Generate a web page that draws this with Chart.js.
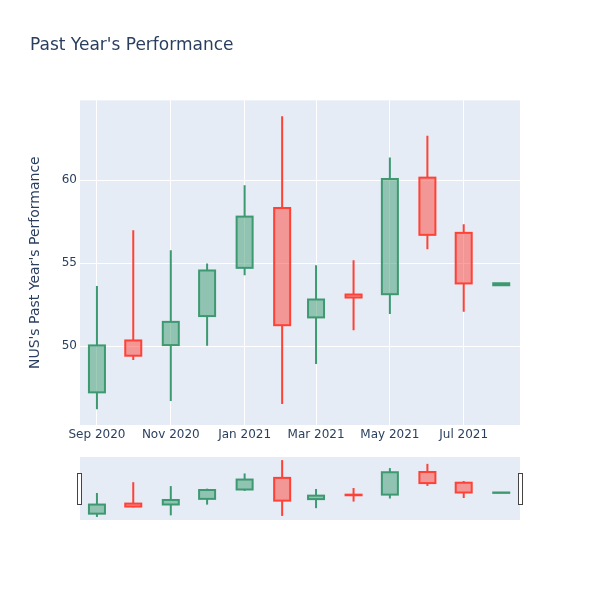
<!DOCTYPE html>
<html>
<head>
<meta charset="utf-8">
<script src="https://cdn.jsdelivr.net/npm/chart.js@4.4.0/dist/chart.umd.min.js"></script>
<style>
  body { margin: 0; background: #fff; }
  #wrap { position: relative; width: 600px; height: 600px; }
  #main { position: absolute; left: 0; top: 0; }
  #slider { position: absolute; left: 70px; top: 450px; }
</style>
</head>
<body>
<div id="wrap">
  <canvas id="main" width="600" height="600"></canvas>
  <canvas id="slider" width="460" height="80"></canvas>
</div>
<script>
// datos (velas mensuales)
const fechas = ['2020-09-01', '2020-10-01', '2020-11-01', '2020-12-01', '2021-01-01', '2021-02-01',
                '2021-03-01', '2021-04-01', '2021-05-01', '2021-06-01', '2021-07-01', '2021-08-01'];
const apertura = [47.21, 50.34, 50.06, 51.81, 54.72, 58.33, 51.73, 53.11, 53.13, 60.16, 56.83, 53.67];
const maximo   = [53.63, 56.99, 55.78, 54.98, 59.70, 63.86, 54.88, 55.18, 61.37, 62.69, 57.35, 53.79];
const minimo   = [46.19, 49.16, 46.69, 50.02, 54.28, 46.51, 48.92, 50.96, 51.93, 55.84, 52.07, 53.67];
const cierre   = [50.04, 49.42, 51.46, 54.56, 57.81, 51.26, 52.81, 52.93, 60.08, 56.71, 53.78, 53.79];

const ticksX = ['2020-09-01', '2020-11-01', '2021-01-01', '2021-03-01', '2021-05-01', '2021-07-01'];
const etiquetasX = ['Sep 2020', 'Nov 2020', 'Jan 2021', 'Mar 2021', 'May 2021', 'Jul 2021'];
const ticksY = [50, 55, 60];
const rangoX = ['2020-08-18T00:00:00Z', '2021-08-16T12:00:00Z'];
const rangoY = [45.24, 64.82];

const VERDE = '#3D9970', ROJO = '#FF4136';
const VERDE_F = 'rgba(61,153,112,0.5)', ROJO_F = 'rgba(255,65,54,0.5)';

const dia = s => Date.parse(s.length > 10 ? s : s + 'T00:00:00Z') / 86400000;
const xs = fechas.map(dia);
const sube = cierre.map((c, i) => c >= apertura[i]);
const colorBorde = sube.map(s => s ? VERDE : ROJO);
const colorRelleno = sube.map(s => s ? VERDE_F : ROJO_F);

function crearDatasets() {
    return [
        {
            // cuerpo de la vela (el borde lo pinta el plugin, centrado como en plotly)
            data: xs.map((x, i) => ({ x: x, y: [apertura[i], cierre[i]] })),
            backgroundColor: colorRelleno,
            borderWidth: 0,
            inflateAmount: 0,
            barThickness: 16,
            grouped: false
        },
        {
            // mecha superior
            data: xs.map((x, i) => ({ x: x, y: [Math.max(apertura[i], cierre[i]), maximo[i]] })),
            backgroundColor: colorBorde,
            borderWidth: 0,
            inflateAmount: 0,
            barThickness: 2,
            grouped: false
        },
        {
            // mecha inferior
            data: xs.map((x, i) => ({ x: x, y: [minimo[i], Math.min(apertura[i], cierre[i])] })),
            backgroundColor: colorBorde,
            borderWidth: 0,
            inflateAmount: 0,
            barThickness: 2,
            grouped: false
        }
    ];
}

const fondoPlot = {
    id: 'fondoPlot',
    beforeDraw(chart) {
        const { ctx, chartArea: a } = chart;
        ctx.save();
        ctx.fillStyle = '#E5ECF6';
        ctx.fillRect(a.left, a.top, a.right - a.left, a.bottom - a.top);
        ctx.restore();
    }
};

// contorno de los cuerpos, trazo de 2px centrado en el borde
const contorno = {
    id: 'contorno',
    afterDatasetsDraw(chart) {
        const ctx = chart.ctx;
        const meta = chart.getDatasetMeta(0);
        ctx.save();
        ctx.lineWidth = 2;
        meta.data.forEach((bar, i) => {
            const p = bar.getProps(['x', 'y', 'base', 'width'], true);
            const top = Math.min(p.y, p.base);
            const h = Math.abs(p.y - p.base);
            ctx.strokeStyle = colorBorde[i];
            ctx.strokeRect(p.x - p.width / 2, top, p.width, h);
        });
        ctx.restore();
    }
};

Chart.defaults.font.family = "'DejaVu Sans', Verdana, sans-serif";
Chart.defaults.font.size = 12;
Chart.defaults.color = '#2a3f5f';

new Chart(document.getElementById('main'), {
    type: 'bar',
    data: { datasets: crearDatasets() },
    options: {
        responsive: false,
        animation: false,
        layout: { padding: { left: 30, right: 80, top: 0, bottom: 0 } },
        plugins: {
            legend: { display: false },
            tooltip: { enabled: false },
            title: {
                display: true,
                text: "Past Year's Performance",
                align: 'start',
                color: '#2a3f5f',
                font: { size: 17, weight: 'normal' },
                padding: { top: 35, bottom: 45 }
            }
        },
        scales: {
            x: {
                type: 'linear',
                min: dia(rangoX[0]),
                max: dia(rangoX[1]),
                offset: false,
                grid: { color: '#ffffff', lineWidth: 1, drawTicks: false, offset: false },
                border: { display: false },
                afterBuildTicks: axis => { axis.ticks = ticksX.map(t => ({ value: dia(t) })); },
                afterFit: axis => { axis.height = 175; },
                ticks: {
                    autoSkip: false,
                    maxRotation: 0,
                    padding: 3,
                    callback: v => etiquetasX[ticksX.map(dia).indexOf(v)]
                }
            },
            y: {
                min: rangoY[0],
                max: rangoY[1],
                grid: { color: '#ffffff', lineWidth: 1, drawTicks: false },
                border: { display: false },
                afterBuildTicks: axis => { axis.ticks = ticksY.map(v => ({ value: v })); },
                afterFit: axis => { axis.width = 50; },
                ticks: { padding: 3 },
                title: {
                    display: true,
                    text: "NUS's Past Year's Performance",
                    font: { size: 14 },
                    padding: { top: -3, bottom: 0 }
                }
            }
        }
    },
    plugins: [fondoPlot, contorno]
});

// mini grafico del selector de rango
const asas = {
    id: 'asas',
    afterDraw(chart) {
        const { ctx, chartArea: a } = chart;
        const h = 32, y0 = a.top + 16;
        ctx.save();
        ctx.fillStyle = '#ffffff';
        ctx.strokeStyle = '#444444';
        ctx.lineWidth = 1;
        [a.left - 3, a.right - 2].forEach(x => {
            ctx.fillRect(x, y0, 5, h);
            ctx.strokeRect(x + 0.5, y0 + 0.5, 4, h - 1);
        });
        ctx.restore();
    }
};

new Chart(document.getElementById('slider'), {
    type: 'bar',
    data: { datasets: crearDatasets() },
    options: {
        responsive: false,
        animation: false,
        layout: { padding: { left: 10, right: 10, top: 7, bottom: 10 } },
        plugins: { legend: { display: false }, tooltip: { enabled: false } },
        scales: {
            x: { type: 'linear', display: false, offset: false, min: dia(rangoX[0]), max: dia(rangoX[1]) },
            y: { display: false, min: rangoY[0], max: rangoY[1] }
        }
    },
    plugins: [fondoPlot, contorno, asas]
});
</script>
</body>
</html>
